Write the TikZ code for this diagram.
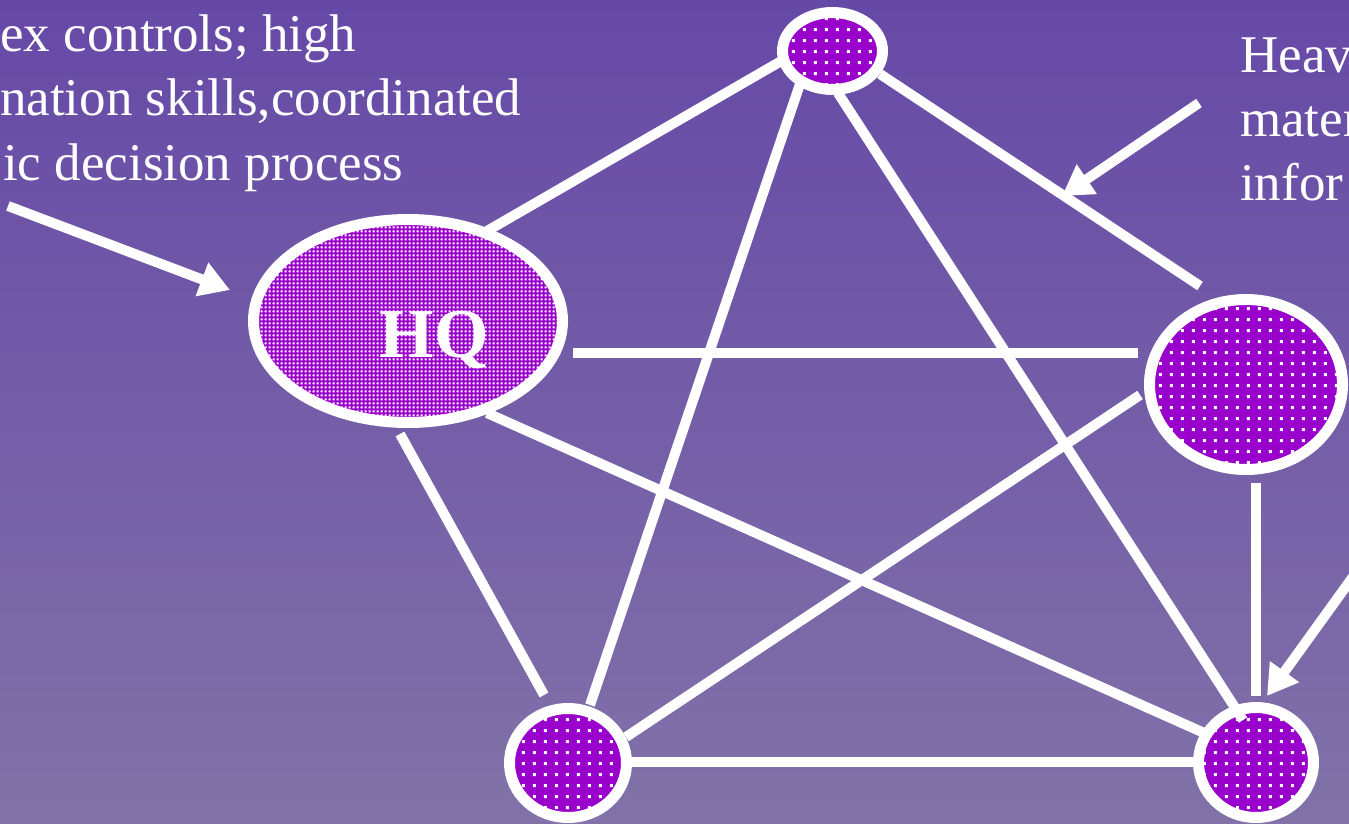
\documentclass[tikz,border=0pt]{standalone}
\usepackage{fontspec}
\setmainfont{Liberation Serif}
\usetikzlibrary{shapes.geometric,arrows.meta,calc,patterns.meta}
\definecolor{bgtop}{RGB}{102,73,167}
\definecolor{bgbot}{RGB}{129,114,168}
\definecolor{nodepurple}{RGB}{153,0,204}
\pgfdeclarepattern{
  name=coarsedots, type=uncolored,
  bottom left={\pgfpoint{0pt}{0pt}},
  top right={\pgfpoint{10.8pt}{10.8pt}},
  tile size={\pgfpoint{10.8pt}{10.8pt}},
  code={\pgfpathrectangle{\pgfpoint{3.9pt}{3.9pt}}{\pgfpoint{3pt}{3pt}}\pgfusepath{fill}}
}
\pgfdeclarepattern{
  name=finedots, type=uncolored,
  bottom left={\pgfpoint{0pt}{0pt}},
  top right={\pgfpoint{4.2pt}{4.2pt}},
  tile size={\pgfpoint{4.2pt}{4.2pt}},
  code={\pgfpathrectangle{\pgfpoint{0.8pt}{0.8pt}}{\pgfpoint{2.4pt}{2.4pt}}\pgfusepath{fill}}
}
\tikzset{
  hubnode/.style={ellipse, draw=white, line width=11pt, fill=nodepurple, inner sep=0pt, text=white},
  coarse/.style={postaction={pattern=coarsedots, pattern color=white}},
  fine/.style={postaction={pattern=finedots, pattern color=white}},
  link/.style={draw=white, line width=10pt},
  pointer/.style={draw=white, line width=10pt, -{Triangle[length=30pt,width=34pt]}},
  note/.style={text=white, font=\fontsize{53}{64}\selectfont, inner sep=0pt, anchor=base west}
}
\begin{document}
\begin{tikzpicture}[x=1pt,y=-1pt]
\useasboundingbox (0,0) rectangle (1349,824);
\shade[top color=bgtop, bottom color=bgbot] (0,0) rectangle (1349,824);

% nodes
\node[hubnode, fine, minimum width=309pt, minimum height=203pt,
      font=\fontsize{70}{70}\selectfont\bfseries, text height=0pt, text depth=0pt]
      (hq) at (408,321) {\hspace*{52pt}\raisebox{-36pt}{HQ}};
\node[hubnode, coarse, minimum width=100pt, minimum height=77pt] (t) at (832.5,51) {};
\node[hubnode, coarse, minimum width=193pt, minimum height=170pt] (r) at (1246,384.5) {};
\node[hubnode, coarse, minimum width=115pt, minimum height=110pt] (br) at (1256,762.5) {};
\node[hubnode, coarse, minimum width=117pt, minimum height=109pt] (bl) at (568,763) {};

% connectors
\draw[link] ($(hq)+(79,-90)$) -- ($(t)+(-49.5,9)$);
\draw[link] ($(hq)+(165,32)$) -- ($(r)+(-108,-31.5)$);
\draw[link] ($(hq)+(-8,113)$) -- ($(bl)+(-24,-68)$);
\draw[link] ($(hq)+(79,92)$) -- ($(br)+(-45,-26.5)$);
\draw[link] ($(t)+(-32.5,33)$) -- ($(bl)+(22,-58)$);
\draw[link] ($(t)+(5.5,42)$) -- ($(br)+(-13,-42.5)$);
\draw[link] ($(t)+(47.5,23)$) -- ($(r)+(-46,-98.5)$);
\draw[link] ($(r)+(-106,10.5)$) -- ($(bl)+(58,-26)$);
\draw[link] ($(r)+(10,98.5)$) -- ($(br)+(0,-66.5)$);
\draw[link] ($(bl)+(62,-1)$) -- ($(br)+(-62,-0.5)$);

% pointer arrows
\coordinate (a1s) at (8,206);
\coordinate (a1e) at (230,290);
\coordinate (a2s) at (1199,103);
\coordinate (a2e) at (1062,196);
\coordinate (a3s) at (1360,567);
\coordinate (a3e) at (1267,696);
\draw[pointer] (a1s) -- (a1e);
\draw[pointer] (a2s) -- (a2e);
\draw[pointer] (a3s) -- (a3e);

% texts
\node[note] (l1) at (0,52) {ex controls; high};
\node[note] (l2) at (0,116) {nation skills,coordinated};
\node[note] (l3) at (3,180) {ic decision process};
\node[note] (r1) at (1240,73) {Heav};
\node[note] (r2) at (1240,137) {mater};
\node[note] (r3) at (1240,200) {infor};
\end{tikzpicture}
\end{document}
